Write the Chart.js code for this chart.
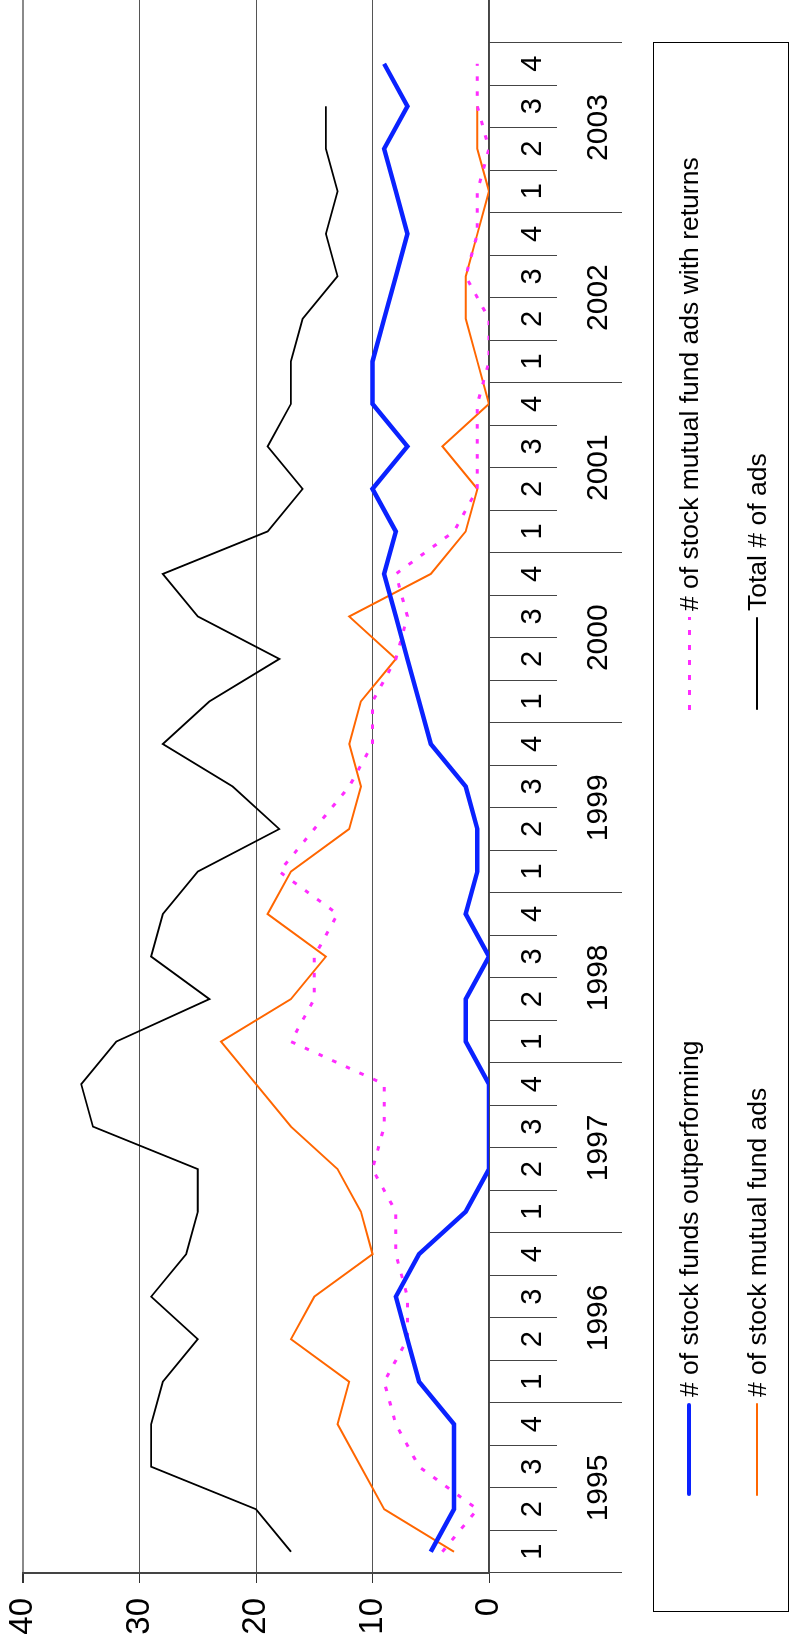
<!DOCTYPE html>
<html>
<head>
<meta charset="utf-8">
<script src="https://cdn.jsdelivr.net/npm/chart.js@4.4.1/dist/chart.umd.min.js"></script>
<style>
  html, body { margin: 0; padding: 0; background: #fff; overflow: hidden; }
  body { width: 792px; height: 1650px; position: relative; }
  #wrap {
    position: absolute; left: 0; top: 0;
    width: 1650px; height: 792px;
    transform-origin: 0 0;
    transform: translate(0, 1650px) rotate(-90deg);
    font-family: Arial, "Liberation Sans", sans-serif;
  }
  #chart { position: absolute; left: 0; top: 0; }
  #legend {
    position: absolute; left: 38px; top: 653px;
    width: 1570px; height: 136px;
    border: 1px solid #000; box-sizing: border-box;
  }
  .item { position: absolute; height: 40px; display: flex; align-items: center; font-size: 26.5px; color: #000; white-space: nowrap; }
  .swatch { width: 93px; margin-right: 6px; }
</style>
</head>
<body>
<div id="wrap">
  <canvas id="chart" width="1650" height="792"></canvas>
  <div id="legend"></div>
</div>
<script>
// Jahre und Quartale
const years = ["1995", "1996", "1997", "1998", "1999", "2000", "2001", "2002", "2003"];
const quarterNames = ["1", "2", "3", "4"];

// Werte je Quartal, 1995 Q1 bis 2003 Q4
const fundsOutperforming = [5, 3, 3, 3, 6, 7, 8, 6, 2, 0, 0, 0, 2, 2, 0, 2, 1, 1, 2, 5, 6, 7, 8, 9, 8, 10, 7, 10, 10, 9, 8, 7, 8, 9, 7, 9];
const adsWithReturns = [4, 1, 6, 8, 9, 7, 7, 8, 8, 10, 9, 9, 17, 15, 15, 13, 18, 15, 12, 10, 10, 8, 7, 8, 3, 1, 1, 1, 0, 0, 2, 1, 1, 0, 1, 1];
const fundAds = [3, 9, 11, 13, 12, 17, 15, 10, 11, 13, 17, 20, 23, 17, 14, 19, 17, 12, 11, 12, 11, 8, 12, 5, 2, 1, 4, 0, 1, 2, 2, 1, 0, 1, 1, null];
const totalAds = [17, 20, 29, 29, 28, 25, 29, 26, 25, 25, 34, 35, 32, 24, 29, 28, 25, 18, 22, 28, 24, 18, 25, 28, 19, 16, 19, 17, 17, 16, 13, 14, 13, 14, 14, null];

// Achsenwerte
const valueTicks = [0, 10, 20, 30, 40];

// eine leere Kategorie am Ende, damit die Fläche rechts weiterläuft
const labels = years.flatMap(() => quarterNames).concat([""]);

const series = [
    { label: "# of stock funds outperforming", data: fundsOutperforming, color: "#0a22ff", width: 4.5, dash: [] },
    { label: "# of stock mutual fund ads with returns", data: adsWithReturns, color: "#ff2cff", width: 3, dash: [4.5, 10.5] },
    { label: "# of stock mutual fund ads", data: fundAds, color: "#ff6600", width: 2, dash: [] },
    { label: "Total # of ads", data: totalAds, color: "#000000", width: 1.8, dash: [] },
];

// Jahreszahlen und lange Trennstriche unter den Quartalen
const yearAxis = {
    id: "yearAxis",
    afterDraw(chart) {
        const x = chart.scales.x;
        const ctx = chart.ctx;
        const half = (x.getPixelForValue(1) - x.getPixelForValue(0)) / 2;
        ctx.save();
        ctx.strokeStyle = "#444";
        ctx.lineWidth = 1;
        for (let k = 0; k <= years.length; k++) {
            const px = Math.round(x.getPixelForValue(k * 4) - half) + 0.5;
            ctx.beginPath();
            ctx.moveTo(px, x.top);
            ctx.lineTo(px, 622);
            ctx.stroke();
        }
        ctx.fillStyle = "#000";
        ctx.font = "30px Arial, 'Liberation Sans'";
        ctx.textAlign = "center";
        ctx.textBaseline = "middle";
        years.forEach((y, k) => {
            const cx = (x.getPixelForValue(k * 4 + 1) + x.getPixelForValue(k * 4 + 2)) / 2;
            ctx.fillText(y, cx, 599);
        });
        ctx.restore();
    },
};

const ctx = document.getElementById("chart").getContext("2d");
const chart = new Chart(ctx, {
    type: "line",
    data: {
        labels: labels,
        datasets: series.map((s) => ({
            label: s.label,
            data: s.data,
            borderColor: s.color,
            backgroundColor: s.color,
            borderWidth: s.width,
            borderDash: s.dash,
            pointRadius: 0,
            tension: 0,
            fill: false,
        })),
    },
    options: {
        responsive: false,
        animation: false,
        layout: { padding: { top: 23, right: 0, bottom: 0, left: 0 } },
        plugins: {
            legend: { display: false },
            tooltip: { enabled: false },
        },
        scales: {
            x: {
                type: "category",
                offset: true,
                grid: {
                    offset: true,
                    drawOnChartArea: false,
                    tickLength: 68,
                    tickColor: "#444",
                    tickWidth: 1,
                },
                border: { display: true, color: "#444", width: 1.5 },
                ticks: {
                    autoSkip: false,
                    maxRotation: 0,
                    padding: -41,
                    color: "#000",
                    font: { family: "Arial, 'Liberation Sans'", size: 29 },
                },
                afterFit: (s) => {
                    s.height = 303;
                    s.paddingLeft = 0;
                    s.paddingRight = 0;
                },
            },
            y: {
                min: 0,
                max: 40,
                afterBuildTicks: (s) => { s.ticks = valueTicks.map((v) => ({ value: v })); },
                grid: {
                    color: (c) => (c.tick && c.tick.value === 40 ? "#8a8a8a" : "#555"),
                    lineWidth: (c) => (c.tick && c.tick.value === 40 ? 2 : 1),
                    tickLength: 10,
                    tickColor: "#333",
                },
                border: { display: true, color: "#444", width: 2 },
                ticks: {
                    padding: 15,
                    color: "#000",
                    font: { family: "Arial, 'Liberation Sans'", size: 33 },
                },
                afterFit: (s) => {
                    s.width = 77;
                    s.paddingTop = 0;
                    s.paddingBottom = 0;
                },
            },
        },
    },
    plugins: [yearAxis],
});

// Legende: zwei Spalten, zwei Zeilen
const legendPos = [
    { x: 153 - 38, y: 688 - 653 },
    { x: 939 - 38, y: 688 - 653 },
    { x: 153 - 38, y: 756 - 653 },
    { x: 939 - 38, y: 756 - 653 },
];
const legend = document.getElementById("legend");
series.forEach((s, i) => {
    const item = document.createElement("div");
    item.className = "item";
    item.style.left = legendPos[i].x + "px";
    item.style.top = legendPos[i].y - 20 + "px";
    const sw = document.createElement("div");
    sw.className = "swatch";
    sw.style.height = s.width + "px";
    if (s.dash.length) {
        sw.style.background = `repeating-linear-gradient(to right, ${s.color} 0 4.5px, transparent 4.5px 15px)`;
    } else {
        sw.style.background = s.color;
        sw.style.borderRadius = s.width / 2 + "px";
    }
    const txt = document.createElement("span");
    txt.textContent = s.label;
    item.appendChild(sw);
    item.appendChild(txt);
    legend.appendChild(item);
});
</script>
</body>
</html>
